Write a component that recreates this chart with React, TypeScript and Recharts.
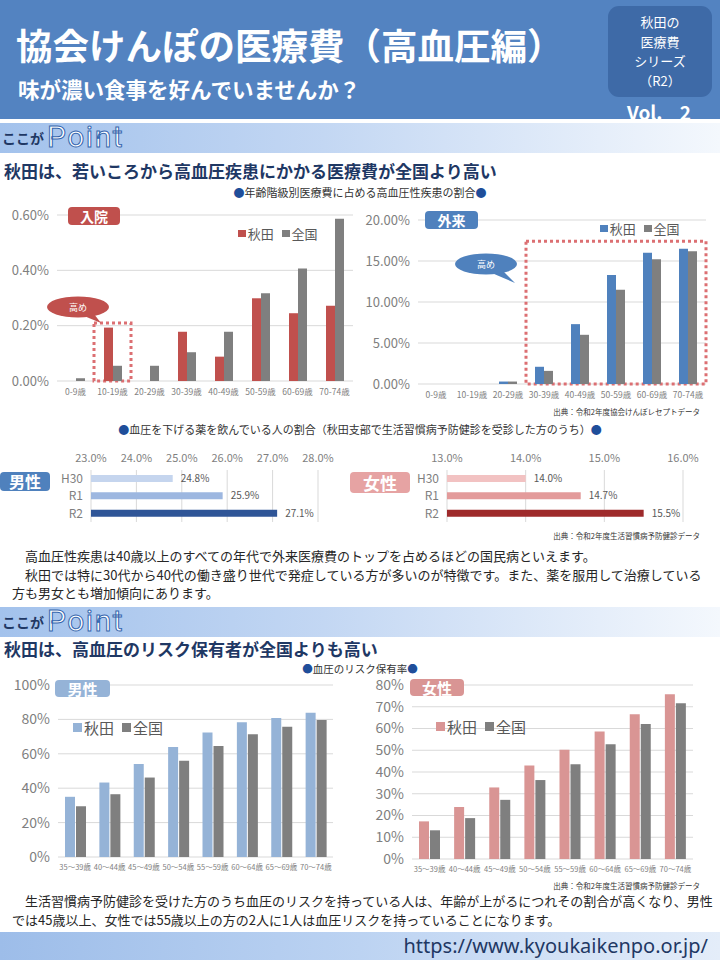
import React from "react";
import {
  BarChart,
  Bar,
  XAxis,
  YAxis,
  CartesianGrid,
  ReferenceArea,
  LabelList,
  Cell,
} from "recharts";

// 年齢階級別医療費に占める高血圧性疾患の割合（%）
const COST_AGES = ["0-9歳", "10-19歳", "20-29歳", "30-39歳", "40-49歳", "50-59歳", "60-69歳", "70-74歳"];
const IN_AKITA = [0, 0.193, 0, 0.178, 0.088, 0.299, 0.245, 0.272];
const IN_JAPAN = [0.01, 0.055, 0.055, 0.104, 0.178, 0.317, 0.407, 0.586];
const OUT_AKITA = [0, 0, 0.3, 2.1, 7.3, 13.3, 16.0, 16.5];
const OUT_JAPAN = [0, 0, 0.3, 1.6, 6.0, 11.5, 15.2, 16.2];
const IN_TICKS = [0, 0.2, 0.4, 0.6];
const OUT_TICKS = [0, 5, 10, 15, 20];

// 血圧を下げる薬を飲んでいる人の割合（%）
const YEARS = ["H30", "R1", "R2"];
const MED_MALE = [24.8, 25.9, 27.1];
const MED_FEMALE = [14.0, 14.7, 15.5];
const MED_MALE_TICKS = [23, 24, 25, 26, 27, 28];
const MED_FEMALE_TICKS = [13, 14, 15, 16];

// 血圧のリスク保有率（%）
const RISK_AGES = ["35～39歳", "40～44歳", "45～49歳", "50～54歳", "55～59歳", "60～64歳", "65～69歳", "70～74歳"];
const RISK_M_AKITA = [35, 43.3, 54, 64, 72.4, 78.3, 80.8, 83.9];
const RISK_M_JAPAN = [29.5, 36.5, 46.2, 56, 64.5, 71.3, 75.7, 79.6];
const RISK_F_AKITA = [17.3, 23.9, 32.9, 43, 50.2, 58.6, 66.5, 75.7];
const RISK_F_JAPAN = [13.2, 18.8, 27.2, 36.3, 43.6, 52.8, 62.1, 71.6];
const RISK_M_TICKS = [0, 20, 40, 60, 80, 100];
const RISK_F_TICKS = [0, 10, 20, 30, 40, 50, 60, 70, 80];

const RED = "#c0504d";
const BLUE = "#4f81bd";
const GRAY = "#7f7f7f";
const LIGHT_BLUE = "#95b3d7";
const PINK = "#d99594";
const NAVY = "#1f3864";
const GRID = "#d9d9d9";
const AXIS_TEXT = "#7f7f7f";
const MALE_COLORS = ["#c5d5ee", "#9db7e0", "#2f5597"];
const FEMALE_COLORS = ["#f2c2c2", "#e39b9b", "#9e2a2b"];
const SP = "\u3000";

const zip = (cats: string[], a: number[], b: number[]) =>
  cats.map((c, i) => ({ cat: c, akita: a[i], japan: b[i] }));

const pos = (left: number, top: number): React.CSSProperties => ({ position: "absolute", left, top });

function Tag({ left, top, w, h, bg, text, size }: any) {
  return (
    <div
      style={{
        ...pos(left, top),
        width: w,
        height: h,
        background: bg,
        borderRadius: 4,
        color: "#fff",
        fontWeight: 700,
        fontSize: size,
        lineHeight: `${h}px`,
        textAlign: "center",
      }}
    >
      {text}
    </div>
  );
}

function SimpleLegend({ left, top, colors, size }: any) {
  return (
    <div style={{ ...pos(left, top), display: "flex", gap: 8, fontSize: size, color: "#595959", whiteSpace: "nowrap" }}>
      {["秋田", "全国"].map((n, i) => (
        <span key={n} style={{ display: "flex", alignItems: "center", gap: 2 }}>
          <span style={{ width: size * 0.6, height: size * 0.6, background: colors[i], display: "inline-block" }} />
          {n}
        </span>
      ))}
    </div>
  );
}

function PointBanner({ top }: { top: number }) {
  return (
    <div
      style={{
        ...pos(0, top),
        width: 720,
        height: 30,
        background: "linear-gradient(90deg,#a3c2ec 0%,#c3d7f3 45%,#f4f8fd 100%)",
      }}
    >
      <span style={{ ...pos(2, 8), fontSize: 14, fontWeight: 700, color: NAVY, lineHeight: 1 }}>ここが</span>
      <span
        style={{
          ...pos(47, -1),
          fontSize: 30,
          lineHeight: 1,
          letterSpacing: 1.5,
          color: "#fff",
          WebkitTextStroke: "1px #3465ad",
          fontFamily: "Roboto",
        }}
      >
        Point
      </span>
    </div>
  );
}

function Source({ top, text }: any) {
  return (
    <div style={{ position: "absolute", right: 20, top, fontSize: 7.5, color: "#333", whiteSpace: "nowrap" }}>{text}</div>
  );
}

function AgeChart({ left, top, width, height, data, yWidth, ticks, domain, fmt, colors, barSize, barGap, yFont, xFont, xHeight, area }: any) {
  return (
    <div style={pos(left, top)}>
      <BarChart width={width} height={height} data={data} margin={{ top: 10, right: 2, left: 0, bottom: 0 }} barSize={barSize} barGap={barGap}>
        <CartesianGrid vertical={false} stroke={GRID} />
        <XAxis dataKey="cat" axisLine={false} tickLine={false} interval={0} height={xHeight} tick={{ fontSize: xFont, fill: AXIS_TEXT }} />
        <YAxis
          type="number"
          domain={domain}
          ticks={ticks}
          tickFormatter={fmt}
          axisLine={false}
          tickLine={false}
          width={yWidth}
          interval={0}
          tick={{ fontSize: yFont, fill: AXIS_TEXT }}
        />
        <Bar dataKey="akita" fill={colors[0]} isAnimationActive={false} />
        <Bar dataKey="japan" fill={colors[1]} isAnimationActive={false} />
        {area && (
          <ReferenceArea
            x1={area.x1}
            x2={area.x2}
            y1={0}
            y2={area.y2}
            fill="none"
            stroke="#dc6f72"
            strokeWidth={3}
            strokeDasharray="3 3"
            ifOverflow="visible"
          />
        )}
      </BarChart>
    </div>
  );
}

function MedChart({ left, top, width, values, ticks, colors, yWidth }: any) {
  const data = YEARS.map((y, i) => ({ year: y, v: values[i] }));
  return (
    <div style={pos(left, top)}>
      <BarChart width={width} height={79} data={data} layout="vertical" margin={{ top: 0, right: 20, left: 0, bottom: 2 }}>
        <CartesianGrid horizontal={false} stroke={GRID} />
        <XAxis
          type="number"
          orientation="top"
          domain={[ticks[0], ticks[ticks.length - 1]]}
          ticks={ticks}
          interval={0}
          tickFormatter={(v: number) => v.toFixed(1) + "%"}
          axisLine={false}
          tickLine={false}
          height={25}
          tick={{ fontSize: 11, fill: AXIS_TEXT }}
        />
        <YAxis
          type="category"
          dataKey="year"
          axisLine={false}
          tickLine={false}
          interval={0}
          width={yWidth}
          tick={{ fontSize: 12, fill: AXIS_TEXT }}
        />
        <Bar dataKey="v" barSize={7} isAnimationActive={false}>
          {data.map((_, i) => (
            <Cell key={i} fill={colors[i]} />
          ))}
          <LabelList dataKey="v" position="right" offset={8} formatter={(v: any) => Number(v).toFixed(1) + "%"} style={{ fontSize: 10, fill: "#595959" }} />
        </Bar>
      </BarChart>
    </div>
  );
}

function Callout({ cx, cy, tipX, tipY, color }: any) {
  return (
    <svg style={{ ...pos(cx - 40, cy - 20), overflow: "visible" }} width={80} height={50}>
      <path d={`M ${34} ${24} L ${tipX - cx + 40} ${tipY - cy + 20} L ${52} ${22} Z`} fill={color} />
      <ellipse cx={40} cy={20} rx={31} ry={10.5} fill={color} />
      <text x={40} y={23.5} textAnchor="middle" fontSize={9} fill="#fff">高め</text>
    </svg>
  );
}

export default function App() {
  const font = "'Noto Sans CJK JP', 'Noto Sans', sans-serif";
  const inData = zip(COST_AGES, IN_AKITA, IN_JAPAN);
  const outData = zip(COST_AGES, OUT_AKITA, OUT_JAPAN);
  const riskM = zip(RISK_AGES, RISK_M_AKITA, RISK_M_JAPAN);
  const riskF = zip(RISK_AGES, RISK_F_AKITA, RISK_F_JAPAN);

  return (
    <div style={{ position: "absolute", left: 0, top: 0, width: 720, height: 960, overflow: "hidden", background: "#fff", fontFamily: font }}>
      {/* header */}
      <div style={{ ...pos(0, 0), width: 720, height: 119, background: "#5383c1" }} />
      <div style={{ ...pos(16, 27), fontSize: 36.5, fontWeight: 700, color: "#fff", lineHeight: 1, whiteSpace: "nowrap" }}>
        協会けんぽの医療費（高血圧編）
      </div>
      <div style={{ ...pos(18, 78), fontSize: 21.5, fontWeight: 700, color: "#fff", lineHeight: 1, whiteSpace: "nowrap" }}>
        味が濃い食事を好んでいませんか？
      </div>
      <div
        style={{
          ...pos(608, 6),
          width: 104,
          height: 91,
          borderRadius: 11,
          background: "#3e6aa7",
          color: "#fff",
          fontSize: 13,
          lineHeight: "19.5px",
          textAlign: "center",
          paddingTop: 6,
          boxSizing: "border-box",
        }}
      >
        秋田の<br />医療費<br />シリーズ<br />（R2）
      </div>
      <div style={{ ...pos(627, 102), fontSize: 19, fontWeight: 700, color: "#fff", lineHeight: 1, whiteSpace: "pre" }}>{"Vol.    2"}</div>

      <PointBanner top={123} />
      <div style={{ ...pos(4, 162), fontSize: 17, fontWeight: 700, color: NAVY, lineHeight: 1, whiteSpace: "nowrap" }}>
        秋田は、若いころから高血圧疾患にかかる医療費が全国より高い
      </div>
      <div style={{ ...pos(0, 187), width: 720, textAlign: "center", fontSize: 11, color: "#333", lineHeight: 1 }}>
        <span style={{ color: "#1f4e9a" }}>●</span>年齢階級別医療費に占める高血圧性疾患の割合<span style={{ color: "#1f4e9a" }}>●</span>
      </div>

      <AgeChart
        left={0}
        top={205}
        width={355}
        height={201}
        data={inData}
        yWidth={57}
        ticks={IN_TICKS}
        domain={[0, 0.6]}
        fmt={(v: number) => v.toFixed(2) + "%"}
        colors={[RED, GRAY]}
        barSize={9}
        barGap={0}
        yFont={13}
        xFont={8.5}
        xHeight={25}
        area={{ x1: "10-19歳", x2: "10-19歳", y2: 0.21 }}
      />
      <Tag left={68} top={207} w={52} h={18} bg={RED} text="入院" size={14} />
      <SimpleLegend left={238} top={224} colors={[RED, GRAY]} size={13} />
      <Callout cx={78} cy={307} tipX={101} tipY={323} color={RED} />

      <AgeChart
        left={360}
        top={210}
        width={348}
        height={199}
        data={outData}
        yWidth={58}
        ticks={OUT_TICKS}
        domain={[0, 20]}
        fmt={(v: number) => v.toFixed(2) + "%"}
        colors={[BLUE, GRAY]}
        barSize={9}
        barGap={0}
        yFont={13}
        xFont={8.5}
        xHeight={25}
        area={{ x1: "30-39歳", x2: "70-74歳", y2: 17.4 }}
      />
      <Tag left={425} top={211} w={53} h={18} bg={BLUE} text="外来" size={14} />
      <SimpleLegend left={600} top={219} colors={[BLUE, GRAY]} size={13} />
      <Callout cx={486} cy={264} tipX={515} tipY={283} color={BLUE} />
      <Source top={406} text="出典：令和2年度協会けんぽレセプトデータ" />

      <div style={{ ...pos(0, 424), width: 720, textAlign: "center", fontSize: 11, color: "#333", lineHeight: 1 }}>
        <span style={{ color: "#1f4e9a" }}>●</span>血圧を下げる薬を飲んでいる人の割合（秋田支部で生活習慣病予防健診を受診した方のうち）
        <span style={{ color: "#1f4e9a" }}>●</span>
      </div>
      <MedChart left={30} top={445} width={308} values={MED_MALE} ticks={MED_MALE_TICKS} colors={MALE_COLORS} yWidth={61} />
      <Tag left={0} top={472} w={50} h={19} bg={BLUE} text="男性" size={16} />
      <MedChart left={385} top={445} width={318} values={MED_FEMALE} ticks={MED_FEMALE_TICKS} colors={FEMALE_COLORS} yWidth={62} />
      <Tag left={350} top={472} w={60} h={21} bg="#e6a3a3" text="女性" size={17} />
      <Source top={530} text="出典：令和2年度生活習慣病予防健診データ" />

      <div style={{ ...pos(12, 547), fontSize: 13, color: "#262626", lineHeight: "18.5px", whiteSpace: "pre" }}>
        {SP + "高血圧性疾患は40歳以上のすべての年代で外来医療費のトップを占めるほどの国民病といえます。"}
        <br />
        {SP + "秋田では特に30代から40代の働き盛り世代で発症している方が多いのが特徴です。また、薬を服用して治療している"}
        <br />
        {"方も男女とも増加傾向にあります。"}
      </div>

      <PointBanner top={607} />
      <div style={{ ...pos(4, 640), fontSize: 17, fontWeight: 700, color: NAVY, lineHeight: 1, whiteSpace: "nowrap" }}>
        秋田は、高血圧のリスク保有者が全国よりも高い
      </div>
      <div style={{ ...pos(0, 663.5), width: 720, textAlign: "center", fontSize: 10.5, color: "#333", lineHeight: 1 }}>
        <span style={{ color: "#1f4e9a" }}>●</span>血圧のリスク保有率<span style={{ color: "#1f4e9a" }}>●</span>
      </div>

      <AgeChart
        left={0}
        top={675}
        width={335}
        height={204}
        data={riskM}
        yWidth={58}
        ticks={RISK_M_TICKS}
        domain={[0, 100]}
        fmt={(v: number) => v + "%"}
        colors={[LIGHT_BLUE, GRAY]}
        barSize={10}
        barGap={1}
        yFont={14}
        xFont={7.5}
        xHeight={22}
      />
      <Tag left={55} top={680} w={55} h={17} bg={LIGHT_BLUE} text="男性" size={15} />
      <SimpleLegend left={73} top={717} colors={[LIGHT_BLUE, GRAY]} size={15} />

      <AgeChart
        left={360}
        top={675}
        width={335}
        height={206}
        data={riskF}
        yWidth={52}
        ticks={RISK_F_TICKS}
        domain={[0, 80]}
        fmt={(v: number) => v + "%"}
        colors={[PINK, GRAY]}
        barSize={10}
        barGap={1}
        yFont={14}
        xFont={7.5}
        xHeight={22}
      />
      <Tag left={410} top={679} w={54} h={17} bg={PINK} text="女性" size={15} />
      <SimpleLegend left={436} top={716} colors={[PINK, GRAY]} size={15} />
      <Source top={880} text="出典：令和2年度生活習慣病予防健診データ" />

      <div style={{ ...pos(12, 891), fontSize: 13, color: "#262626", lineHeight: "19px", whiteSpace: "pre" }}>
        {SP + "生活習慣病予防健診を受けた方のうち血圧のリスクを持っている人は、年齢が上がるにつれその割合が高くなり、男性"}
        <br />
        {"では45歳以上、女性では55歳以上の方の2人に1人は血圧リスクを持っていることになります。"}
      </div>

      <div
        style={{
          ...pos(0, 932),
          width: 720,
          height: 28,
          background: "linear-gradient(90deg,#9dbde9 0%,#bcd3f2 50%,#e4edf9 100%)",
        }}
      />
      <div style={{ position: "absolute", right: 12, top: 933, fontSize: 20, color: NAVY, lineHeight: "26px", fontFamily: "'Noto Sans', sans-serif" }}>
        https://www.kyoukaikenpo.or.jp/
      </div>
    </div>
  );
}
